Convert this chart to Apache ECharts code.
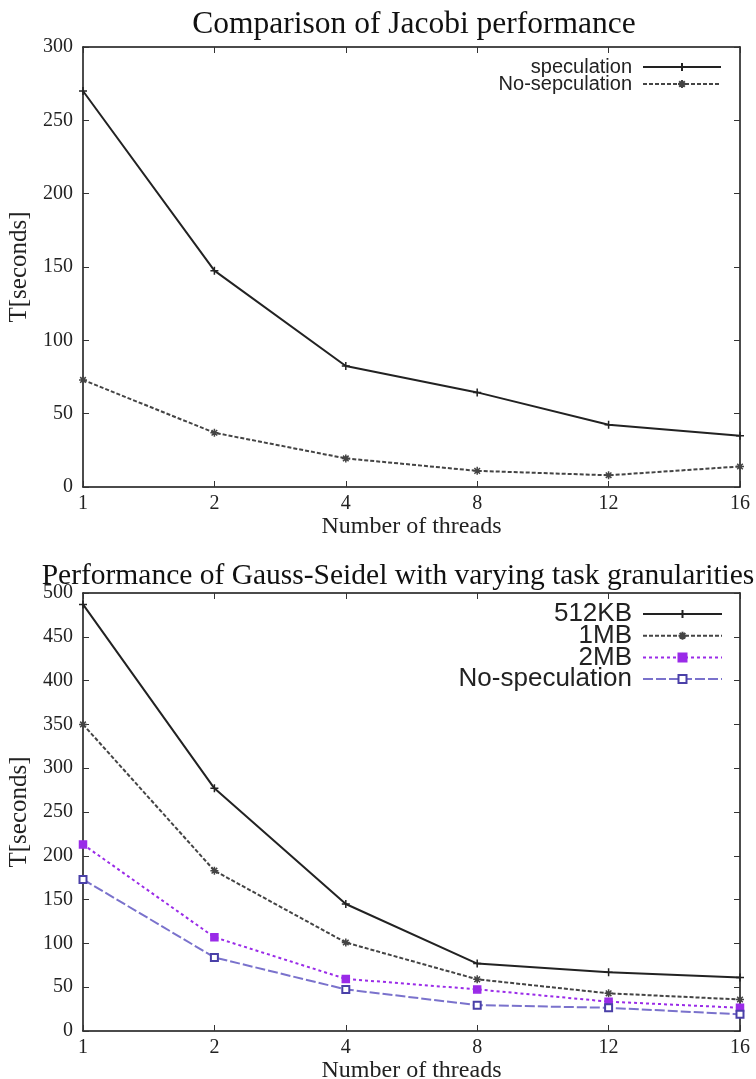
<!DOCTYPE html>
<html>
<head>
<meta charset="utf-8">
<script src="https://cdn.jsdelivr.net/npm/echarts@6/dist/echarts.min.js"></script>
<style>html,body{margin:0;padding:0;background:#fff}#c{width:756px;height:1079px}</style>
</head>
<body>
<div id="c"></div>
<script>
const threads = ['1', '2', '4', '8', '12', '16'];
// Jacobi
const jacobiSpeculation = [270, 147.5, 82.5, 64.5, 42.5, 35];
const jacobiNoSpeculation = [73, 37, 19.5, 11, 8, 14];
// Gauss-Seidel
const gs512KB = [487, 277, 145, 77, 67, 61];
const gs1MB = [350, 183, 101, 59, 43, 36];
const gs2MB = [213, 107, 59.5, 47.5, 33.5, 26.5];
const gsNoSpeculation = [173, 84, 47.5, 29.5, 26.5, 19];

const titleTop = 'Comparison of Jacobi performance';
const titleBottom = 'Performance of Gauss-Seidel with varying task granularities';

const SERIF = '"Liberation Serif", "DejaVu Serif", serif';
const SANS = '"Liberation Sans", Arial, sans-serif';
const PLUS = 'path://M0,5L10,5M5,0L5,10';
const STAR = 'path://M0,5L10,5M5,0L5,10M1.5,1.5L8.5,8.5M1.5,8.5L8.5,1.5';

function xAxes(gi) {
  return [
    { type: 'category', gridIndex: gi, data: threads, boundaryGap: false, position: 'bottom',
      axisLine: { onZero: false, lineStyle: { color: '#111', width: 1.5 } },
      axisTick: { inside: true, length: 6, lineStyle: { color: '#333' } },
      axisLabel: { fontFamily: SERIF, fontSize: 20, color: '#222', margin: 7 },
      name: 'Number of threads', nameLocation: 'middle', nameGap: 20,
      nameTextStyle: { fontFamily: SERIF, fontSize: 24, color: '#222', verticalAlign: 'top' } },
    { type: 'category', gridIndex: gi, data: threads, boundaryGap: false, position: 'top',
      axisLine: { onZero: false, lineStyle: { color: '#111', width: 1.5 } },
      axisTick: { inside: true, length: 6, lineStyle: { color: '#333' } },
      axisLabel: { show: false } }
  ];
}
function yAxes(gi, max) {
  return [
    { type: 'value', gridIndex: gi, min: 0, max: max, interval: 50, position: 'left',
      axisLine: { show: true, onZero: false, lineStyle: { color: '#111', width: 1.5 } },
      axisTick: { show: true, inside: true, length: 6, lineStyle: { color: '#333' } },
      splitLine: { show: false },
      axisLabel: { fontFamily: SERIF, fontSize: 20, color: '#222', margin: 10 },
      name: 'T[seconds]', nameLocation: 'middle', nameGap: 50,
      nameTextStyle: { fontFamily: SERIF, fontSize: 25, color: '#222' } },
    { type: 'value', gridIndex: gi, min: 0, max: max, interval: 50, position: 'right',
      axisLine: { show: true, onZero: false, lineStyle: { color: '#111', width: 1.5 } },
      axisTick: { show: true, inside: true, length: 6, lineStyle: { color: '#333' } },
      splitLine: { show: false }, axisLabel: { show: false } }
  ];
}
function ser(name, data, xi, yi, color, symbol, lineType, size, markColor) {
  const mc = markColor || color;
  return {
    name: name, type: 'line', data: data, xAxisIndex: xi, yAxisIndex: yi,
    symbol: symbol, symbolSize: size || 8, showSymbol: true,
    lineStyle: { color: color, width: 2, type: lineType },
    itemStyle: { color: symbol.startsWith('path') ? 'none' : mc, borderColor: mc, borderWidth: 1.5 },
    emphasis: { disabled: true }, animation: false
  };
}

const chart = echarts.init(document.getElementById('c'), null, { renderer: 'canvas' });
chart.setOption({
  backgroundColor: '#fff',
  animation: false,
  title: [
    { text: titleTop, left: 409, textAlign: 'center', top: 4,
      textStyle: { fontFamily: SERIF, fontSize: 31.5, fontWeight: 'normal', color: '#111' } },
    { text: titleBottom, left: 393, textAlign: 'center', top: 556,
      textStyle: { fontFamily: SERIF, fontSize: 29.5, fontWeight: 'normal', color: '#111' } }
  ],
  legend: [
    { data: ['speculation', 'No-sepculation'], orient: 'vertical', align: 'right',
      right: 34, top: 57, padding: 0, itemWidth: 78, itemHeight: 10, itemGap: -3,
      textStyle: { fontFamily: SANS, fontSize: 20, color: '#222', padding: [0, 6, 0, 0] } },
    { data: ['512KB', '1MB', '2MB', 'No-speculation'], orient: 'vertical', align: 'right',
      right: 33, top: 601, padding: 0, itemWidth: 79, itemHeight: 10, itemGap: -4.3,
      textStyle: { fontFamily: SANS, fontSize: 26, color: '#222', padding: [0, 6, 0, 0] } }
  ],
  grid: [
    { left: 83, right: 16, top: 47, height: 440, outerBoundsMode: 'none', containLabel: false },
    { left: 83, right: 16, top: 593, height: 438, outerBoundsMode: 'none', containLabel: false }
  ],
  xAxis: [].concat(xAxes(0), xAxes(1)),
  yAxis: [].concat(yAxes(0, 300), yAxes(1, 500)),
  series: [
    ser('speculation', jacobiSpeculation, 0, 0, '#222', PLUS, 'solid'),
    ser('No-sepculation', jacobiNoSpeculation, 0, 0, '#444', STAR, [4, 2]),
    ser('512KB', gs512KB, 2, 2, '#222', PLUS, 'solid'),
    ser('1MB', gs1MB, 2, 2, '#444', STAR, [4, 2]),
    ser('2MB', gs2MB, 2, 2, '#9a2be8', 'rect', [3, 3], 7),
    ser('No-speculation', gsNoSpeculation, 2, 2, '#7a72cc', 'emptyRect', [10, 3], 7, '#4a40a8')
  ]
});
</script>
</body>
</html>
